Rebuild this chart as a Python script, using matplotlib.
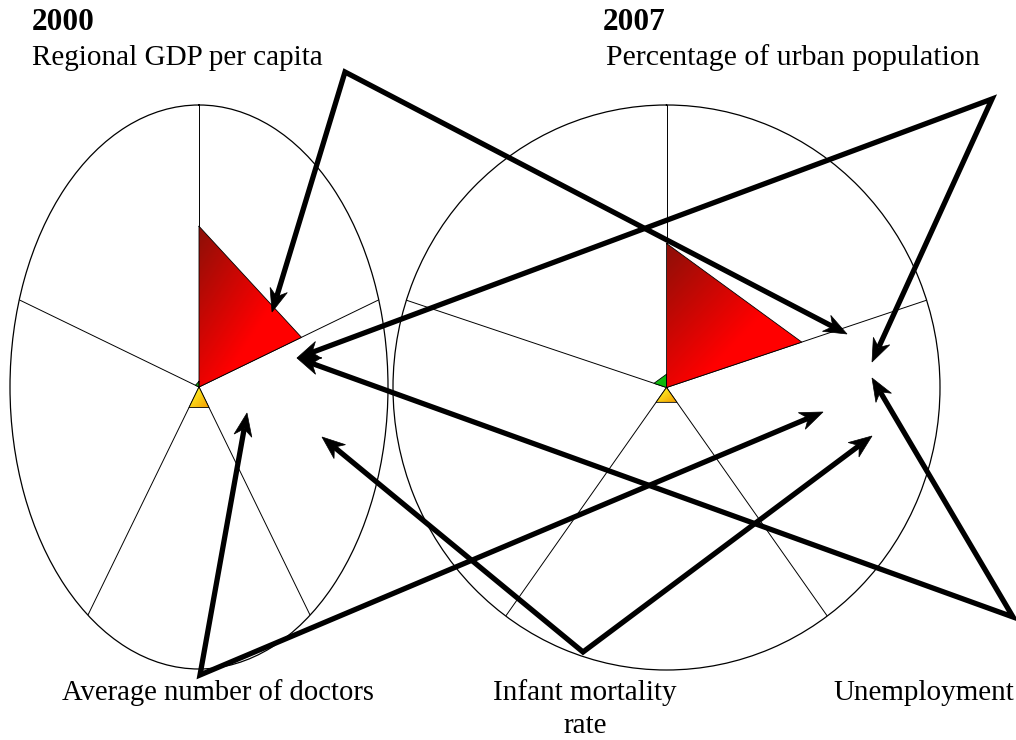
import numpy as np
import matplotlib
matplotlib.use("Agg")
import matplotlib.pyplot as plt
from matplotlib.image import BboxImage
from matplotlib.transforms import Bbox, TransformedBbox
from matplotlib.patches import Polygon

# ---------------- data ----------------
axes_names = ["Regional GDP per capita", "Percentage of urban population",
              "Unemployment", "Infant mortality rate", "Average number of doctors"]
years = ["2000", "2007"]
# radar series values (fraction of the outer radius) per axis
red_2000 = [0.57, 0.57, 0.0, 0.0, 0.0]
green_2000 = [0.02, 0.0, 0.0, 0.0, 0.02]
yellow_2000 = [0.0, 0.0, 0.09, 0.09, 0.0]
red_2007 = [0.51, 0.52, 0.0, 0.0, 0.0]
green_2007 = [0.047, 0.0, 0.0, 0.0, 0.048]
yellow_2007 = [0.0, 0.0, 0.065, 0.065, 0.0]

# annotation labels: (text lines, text x, first baseline y, ha, arrow vertex, arrow tips) in pixels
label_text = [["Regional GDP per capita"], ["Percentage of urban population"],
              ["Unemployment"], ["Infant mortality", "rate"], ["Average number of doctors"]]
label_xy = [(32, 65), (606, 65), (833, 700), (585, 700), (62, 700)]
label_ha = ["left", "left", "left", "center", "left"]
label_size = [21, 21.5, 21, 21, 20.6]
arrow_vertex = [(345, 72), (992, 99), (1013, 617), (583, 652), (200, 675)]
arrow_tips = [[(272, 312), (847, 334)],
              [(297, 358), (872, 362)],
              [(297, 358), (872, 378)],
              [(322, 437), (872, 436)],
              [(247, 413), (823, 412)]]

W, H = 1016, 740
fig = plt.figure(figsize=(W / 100, H / 100), dpi=100)
fig.patch.set_facecolor("white")

serif = ["Liberation Serif", "DejaVu Serif"]

# polar axes rectangles (figure fraction)
rects = [[10 / W, 71 / H, 378 / W, 564 / H],
         [393 / W, 70 / H, 547 / W, 565 / H]]
RED = ((0.55, 0.06, 0.03), (1.0, 0.0, 0.0), 0.0)
GREEN = ((0.2, 0.85, 0.2), (0.05, 0.72, 0.05), 0.0)
YELLOW = ((1.0, 0.95, 0.15), (0.96, 0.66, 0.02), 0.35)
series_sets = [
    [(red_2000, RED), (green_2000, GREEN), (yellow_2000, YELLOW)],
    [(red_2007, RED), (green_2007, GREEN), (yellow_2007, YELLOW)],
]

n = len(axes_names)
theta = np.linspace(0, 2 * np.pi, n, endpoint=False)


def gradient(c0, c1, shift, size=64):
    u = np.linspace(0, 1, size)
    U, V = np.meshgrid(u, u)
    t = np.clip((U + V - shift) / (1.2 if shift == 0 else 1.4), 0, 1)[..., None]
    return np.array(c0)[None, None, :] * (1 - t) + np.array(c1)[None, None, :] * t


for rect, series in zip(rects, series_sets):
    ax = fig.add_axes(rect, projection="polar")
    ax.set_aspect("auto")
    ax.set_facecolor("none")
    ax.set_theta_offset(np.pi / 2)
    ax.set_theta_direction(-1)
    ax.set_ylim(0, 1)
    ax.set_yticks([])
    ax.set_xticks(theta)
    ax.set_xticklabels([])
    ax.xaxis.grid(True, color="black", lw=0.7)
    ax.yaxis.grid(False)
    ax.spines["polar"].set_color("black")
    ax.spines["polar"].set_linewidth(0.9)
    for vals, (c0, c1, shift) in series:
        th = np.append(theta, theta[0])
        rr = np.append(vals, vals[0])
        patch = ax.fill(th, rr, facecolor="none", edgecolor="none", zorder=2)[0]
        pts = ax.transAxes.inverted().transform(
            ax.transData.transform(np.column_stack([th, rr])))
        bb = Bbox.from_extents(pts[:, 0].min(), pts[:, 1].min(),
                               pts[:, 0].max(), pts[:, 1].max())
        im = BboxImage(TransformedBbox(bb, ax.transAxes), interpolation="bilinear")
        im.set_data(gradient(c0, c1, shift))
        im.set_zorder(2.5)
        ax.add_artist(im)
        im.set_clip_path(patch)
        ax.plot(th, rr, color="black", lw=0.6, zorder=3)

# overlay in pixel coordinates for titles, labels, arrows
ov = fig.add_axes([0, 0, 1, 1], zorder=10)
ov.set_xlim(0, W)
ov.set_ylim(H, 0)
ov.axis("off")
ov.patch.set_alpha(0)

ov.text(32, 30, years[0], fontsize=22.5, fontweight="bold", family=serif, va="baseline")
ov.text(603, 30, years[1], fontsize=22.5, fontweight="bold", family=serif, va="baseline")
for lines, (x, y), ha, fs in zip(label_text, label_xy, label_ha, label_size):
    for i, line in enumerate(lines):
        ov.text(x, y + i * 33, line, fontsize=fs, family=serif, ha=ha, va="baseline")

L, HW, NOTCH = 23, 9, 7
for v, tips in zip(arrow_vertex, arrow_tips):
    v = np.array(v, float)
    ends = []
    for t in tips:
        t = np.array(t, float)
        d = (t - v) / np.linalg.norm(t - v)
        nrm = np.array([-d[1], d[0]])
        back = t - L * d
        head = [t, back + HW * nrm, t - (L - NOTCH) * d, back - HW * nrm]
        ov.add_patch(Polygon(head, closed=True, facecolor="black", edgecolor="black",
                             lw=0.5, zorder=11))
        ends.append(t - (L - NOTCH) * d)
    path = np.array([ends[0], v, ends[1]])
    ov.plot(path[:, 0], path[:, 1], color="black", lw=3.8,
            solid_joinstyle="miter", solid_capstyle="butt", zorder=11)

fig.savefig("out.png", dpi=100)
